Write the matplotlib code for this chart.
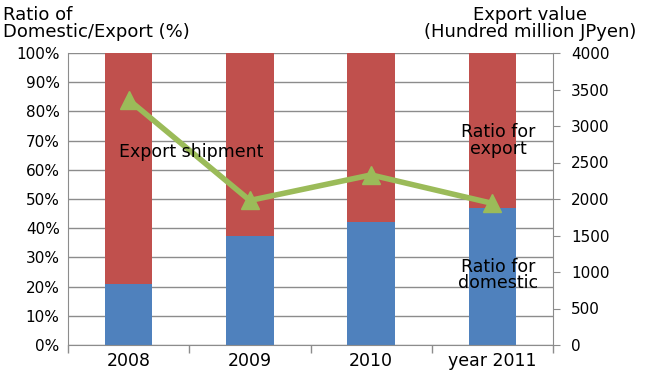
import matplotlib
matplotlib.use("Agg")
import matplotlib.pyplot as plt
import numpy as np

years = ["2008", "2009", "2010", "year 2011"]
domestic_pct = [21, 37.5, 42, 47]
export_pct = [100 - d for d in domestic_pct]
export_value = [3360, 1980, 2330, 1940]

BLUE = "#4F81BD"
RED = "#C0504D"
GREEN = "#9BBB59"
GRID = "#8C8C8C"

plt.rcParams["font.family"] = ["Verdana", "DejaVu Sans"]
plt.rcParams["font.size"] = 11

fig = plt.figure(figsize=(6.49, 3.90), dpi=100)
ax = fig.add_axes([68 / 649, 1 - 345 / 390, (553 - 68) / 649, (345 - 53) / 390])
x = np.arange(len(years))

ax.bar(x, domestic_pct, width=0.39, color=BLUE, zorder=2)
ax.bar(x, export_pct, width=0.39, bottom=domestic_pct, color=RED, zorder=2)
ax.set_xlim(-0.5, len(years) - 0.5)
ax.set_ylim(0, 100)
ax.set_yticks(range(0, 101, 10))
ax.set_yticklabels([f"{v}%" for v in range(0, 101, 10)])
ax.yaxis.grid(True, color=GRID, lw=1)
ax.set_axisbelow(True)
ax.set_xticks(x)
ax.set_xticklabels(years, fontsize=12.5)
ax.set_xticks(np.arange(-0.5, len(years)), minor=True)
ax.tick_params(axis="x", which="major", length=0, pad=5)
ax.tick_params(axis="x", which="minor", length=6, color=GRID, width=1)
ax.tick_params(axis="y", length=0, pad=6)
for s in ["top", "right"]:
    ax.spines[s].set_visible(False)
for s in ["left", "bottom"]:
    ax.spines[s].set_color(GRID)

ax2 = ax.twinx()
ax2.plot(x, export_value, color=GREEN, lw=4, marker="^", ms=13, zorder=3)
ax2.set_ylim(0, 4000)
ax2.set_yticks(range(0, 4001, 500))
ax2.tick_params(axis="y", length=5, color=GRID, pad=8)
for s in ["top", "left", "bottom"]:
    ax2.spines[s].set_visible(False)
ax2.spines["right"].set_color(GRID)
ax2.patch.set_visible(False)

fig.text(3 / 649, 1 - 41 / 390, "Ratio of\nDomestic/Export (%)", ha="left", va="bottom",
         fontsize=13, linespacing=0.95)
fig.text(530 / 649, 1 - 41 / 390, "Export value\n(Hundred million JPyen)", ha="center",
         va="bottom", fontsize=13, linespacing=0.95)

ax2.text(0.52, 66 * 40, "Export shipment", ha="center", va="center", fontsize=12.5, zorder=4)
ax2.text(3.05, 70 * 40, "Ratio for\nexport", ha="center", va="center", fontsize=12.5,
         linespacing=0.9, zorder=4)
ax2.text(3.05, 24 * 40, "Ratio for\ndomestic", ha="center", va="center", fontsize=12.5,
         linespacing=0.9, zorder=4)

fig.savefig("out.png", dpi=100)
